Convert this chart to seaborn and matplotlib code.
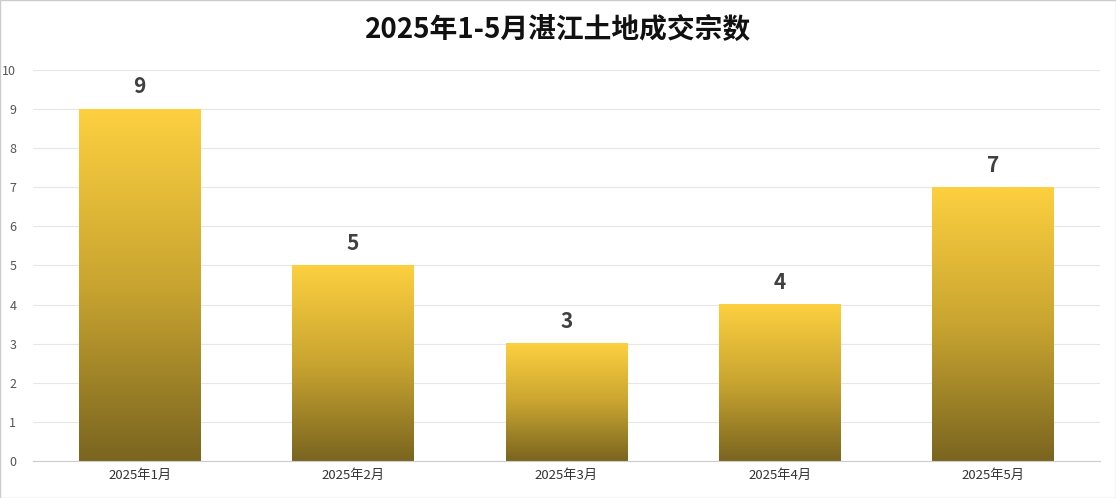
import matplotlib
matplotlib.use("Agg")
import matplotlib.pyplot as plt
import seaborn as sns
import numpy as np
import pandas as pd
from matplotlib.colors import LinearSegmentedColormap

categories = ["2025年1月", "2025年2月", "2025年3月", "2025年4月", "2025年5月"]
values = [9, 5, 3, 4, 7]
title = "2025年1-5月湛江土地成交宗数"

sns.set_style("white")
plt.rcParams['font.family'] = ['Noto Sans CJK SC', 'DejaVu Sans']

fig = plt.figure(figsize=(11.16, 4.98), dpi=100)
fig.patches.append(plt.Rectangle((0, 0), 1, 1, transform=fig.transFigure, fill=False, edgecolor="#cccccc", lw=1))
ax = fig.add_axes([33/1116, 37/498, 1067/1116, 391/498])
df = pd.DataFrame({"cat": categories, "val": values})
sns.barplot(data=df, x="cat", y="val", ax=ax, width=0.57, color="#FDD040")

cmap = LinearSegmentedColormap.from_list("g", ["#7A6520", "#C9A530", "#FDD040"])
grad = np.linspace(0, 1, 256).reshape(-1, 1)
for p in ax.patches:
    x0, w, h = p.get_x(), p.get_width(), p.get_height()
    ax.imshow(grad, extent=[x0, x0 + w, 0, h], origin="lower", aspect="auto", cmap=cmap, zorder=2)
    p.set_alpha(0)
    ax.text(x0 + w / 2, h + 0.3, f"{int(h)}", ha="center", va="bottom", fontsize=15,
            fontweight="bold", color="#404040", zorder=3)

ax.set_xlim(-0.5, 4.5)
ax.set_ylim(0, 10)
ax.set_yticks(range(0, 11))
ax.yaxis.grid(True, color="#e6e6e6", lw=0.8, zorder=0)
ax.set_axisbelow(True)
ax.set_xlabel("")
ax.set_ylabel("")
for s in ["top", "right", "left"]:
    ax.spines[s].set_visible(False)
ax.spines["bottom"].set_color("#cccccc")
ax.set_xticks(np.arange(-0.5, 5, 1), minor=True)
ax.tick_params(axis="x", which="minor", length=5, color="#cccccc")
ax.tick_params(axis="x", which="major", length=0, labelsize=9.5, colors="#333333", pad=6)
ax.tick_params(axis="y", length=0, labelsize=9, colors="#555555", pad=12)
fig.text(0.5, 0.94, title, ha="center", va="center", fontsize=20, fontweight="bold", color="#111111")
fig.savefig("out.png", dpi=100)
